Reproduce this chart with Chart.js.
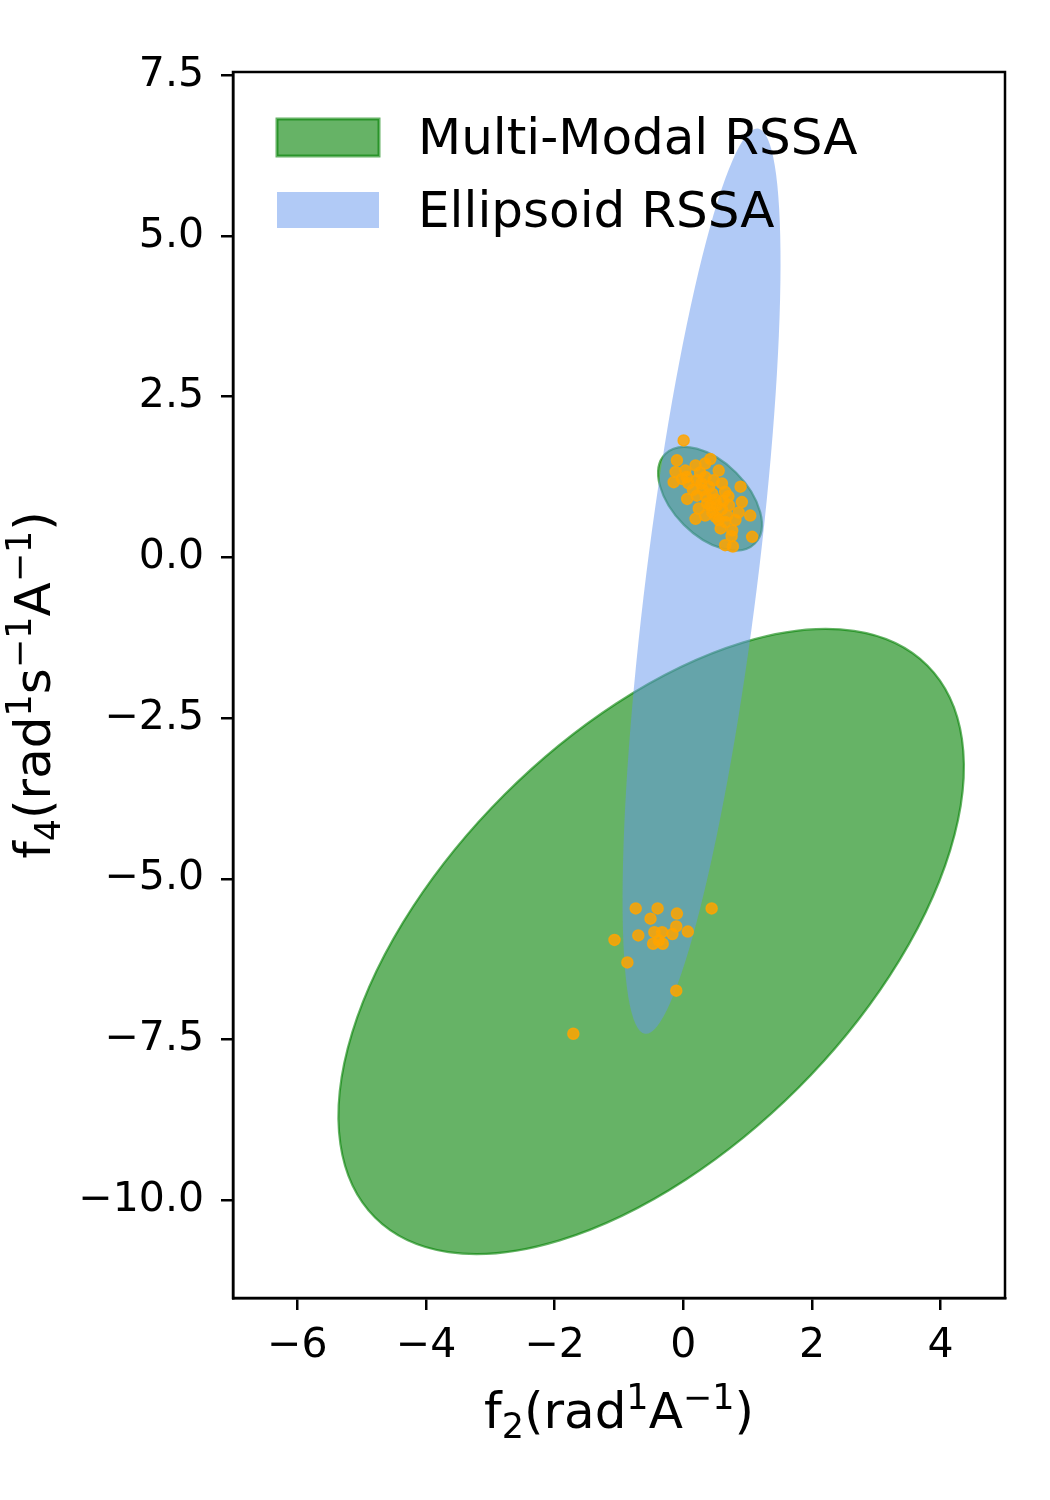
<!DOCTYPE html>
<html>

<head>
    <title>RSSA ellipses</title>
    <script src="https://cdn.jsdelivr.net/npm/chart.js@4.4.2/dist/chart.umd.min.js"></script>
    <style>
        body {
            margin: 0;
            background: #ffffff;
        }

        canvas {
            display: block;
        }
    </style>
</head>

<body>
    <canvas id="grafico" width="1050" height="1500"></canvas>
    <script>
        // ticks of the two axes
        const xTicks = [-6, -4, -2, 0, 2, 4];
        const yTicks = [-10, -7.5, -5, -2.5, 0, 2.5, 5, 7.5];

        // ellipses: centre, semi axes (data units) and angle of the major axis (degrees)
        const ellipseLabels = ['Multi-Modal RSSA', 'Multi-Modal RSSA', 'Ellipsoid RSSA'];
        const ellipseCx = [-0.50, 0.415, 0.283];
        const ellipseCy = [-5.975, 0.912, -0.37];
        const ellipseA = [6.07, 0.985, 7.094];
        const ellipseB = [3.227, 0.574, 0.866];
        const ellipseAngle = [45, -45, 82.9];

        // orange samples
        const sampleX = [
            -0.74, -0.40, -0.51, -0.10, 0.44, -1.07, -0.70, -0.45, -0.33, -0.11, -0.17, 0.07, -0.47, -0.32, -0.38, -0.87, -0.11, -1.71,
            0.005, -0.10, -0.12, -0.15, 0.03, 0.19, 0.42, 0.34, 0.55, 0.08, 0.21, 0.34, 0.47, 0.89, 0.65, 0.06, 0.21, 0.45, 0.24, 0.37,
            0.52, 0.71, 0.91, 0.19, 0.34, 0.50, 0.68, 0.86, 1.04, 0.58, 0.76, 0.65, 0.81, 1.07, 0.65, 0.77, 0.75,
            0.30, 0.40, 0.26, 0.50, 0.60, 0.45, 0.55, 0.35, 0.15, 0.05, 0.60, 0.70, 0.28, 0.42, 0.62, -0.02
        ];
        const sampleY = [
            -5.46, -5.46, -5.62, -5.54, -5.46, -5.95, -5.88, -5.83, -5.83, -5.74, -5.86, -5.82, -6.01, -6.01, -5.96, -6.30, -6.74, -7.41,
            1.82, 1.51, 1.33, 1.17, 1.35, 1.43, 1.53, 1.46, 1.35, 1.15, 1.20, 1.25, 1.20, 1.10, 1.02, 0.91, 0.96, 0.99, 0.76, 0.84,
            0.81, 0.81, 0.86, 0.60, 0.65, 0.63, 0.65, 0.70, 0.65, 0.45, 0.42, 0.55, 0.58, 0.32, 0.19, 0.17, 0.33,
            1.05, 1.10, 1.32, 0.90, 0.75, 0.70, 0.58, 0.95, 1.05, 1.25, 1.15, 0.95, 1.15, 0.80, 0.88, 1.22
        ];

        const FONTE = "'DejaVu Sans', sans-serif";
        const VERDE = 'rgba(0, 128, 0, 0.6)';
        const AZUL = 'rgba(100, 149, 237, 0.5)';
        const LARANJA = 'rgba(255, 165, 0, 0.85)';

        function menos(v, casas) {
            const s = Math.abs(v).toFixed(casas);
            return v < 0 ? '\u2212' + s : s;
        }

        // text with sub/superscripts, like matplotlib mathtext
        const xLabelRuns = [['f'], ['2', 'sub'], ['(rad'], ['1', 'sup'], ['A'], ['\u22121', 'sup'], [')']];
        const yLabelRuns = [['f'], ['4', 'sub'], ['(rad'], ['1', 'sup'], ['s'], ['\u22121', 'sup'], ['A'], ['\u22121', 'sup'], [')']];

        function drawRuns(ctx, runs, size) {
            const small = size * 0.7;
            let total = 0;
            runs.forEach(r => {
                ctx.font = (r[1] ? small : size) + 'px ' + FONTE;
                total += ctx.measureText(r[0]).width;
            });
            let x = -total / 2;
            runs.forEach(r => {
                ctx.font = (r[1] ? small : size) + 'px ' + FONTE;
                let dy = 0;
                if (r[1] === 'sub') dy = size * 0.2;
                if (r[1] === 'sup') dy = -size * 0.38;
                ctx.fillText(r[0], x, dy);
                x += ctx.measureText(r[0]).width;
            });
        }

        function ellipsePath(chart, i) {
            const ctx = chart.ctx;
            const sx = chart.scales.x, sy = chart.scales.y;
            const px = sx.getPixelForValue(ellipseCx[i]);
            const py = sy.getPixelForValue(ellipseCy[i]);
            const kx = sx.getPixelForValue(ellipseCx[i] + 1) - px;
            const ky = sy.getPixelForValue(ellipseCy[i] + 1) - py;
            ctx.save();
            ctx.translate(px, py);
            ctx.scale(kx, ky);
            ctx.rotate(ellipseAngle[i] * Math.PI / 180);
            ctx.beginPath();
            ctx.ellipse(0, 0, ellipseA[i], ellipseB[i], 0, 0, 2 * Math.PI);
            ctx.restore();
        }

        const elipses = {
            id: 'elipses',
            beforeDatasetsDraw(chart) {
                const ctx = chart.ctx;
                const area = chart.chartArea;
                ctx.save();
                ctx.beginPath();
                ctx.rect(area.left, area.top, area.right - area.left, area.bottom - area.top);
                ctx.clip();
                // green first, blue on top
                ellipseLabels.forEach((nome, i) => {
                    if (nome !== 'Multi-Modal RSSA') return;
                    ellipsePath(chart, i);
                    ctx.fillStyle = VERDE;
                    ctx.fill();
                    ctx.strokeStyle = VERDE;
                    ctx.lineWidth = 2.2;
                    ctx.stroke();
                });
                ellipseLabels.forEach((nome, i) => {
                    if (nome !== 'Ellipsoid RSSA') return;
                    ellipsePath(chart, i);
                    ctx.fillStyle = AZUL;
                    ctx.fill();
                });
                ctx.restore();
            },
            afterDraw(chart) {
                const ctx = chart.ctx;
                const area = chart.chartArea;
                ctx.save();
                // frame
                ctx.strokeStyle = '#000';
                ctx.lineWidth = 2.5;
                ctx.strokeRect(area.left, area.top, area.right - area.left, area.bottom - area.top);

                // legend
                const lx = area.left + 44;
                ctx.fillStyle = VERDE;
                ctx.fillRect(lx, 119, 102, 37);
                ctx.strokeStyle = VERDE;
                ctx.lineWidth = 3;
                ctx.strokeRect(lx, 119, 102, 37);
                ctx.fillStyle = AZUL;
                ctx.fillRect(lx, 192, 102, 36);

                ctx.fillStyle = '#000';
                ctx.font = '50px ' + FONTE;
                ctx.textBaseline = 'middle';
                ctx.textAlign = 'left';
                ctx.fillText('Multi-Modal RSSA', 418, 141);
                ctx.fillText('Ellipsoid RSSA', 418, 214);

                // axis titles
                ctx.textBaseline = 'alphabetic';
                ctx.save();
                ctx.translate((area.left + area.right) / 2, 1428);
                drawRuns(ctx, xLabelRuns, 50);
                ctx.restore();

                ctx.save();
                ctx.translate(50, (area.top + area.bottom) / 2);
                ctx.rotate(-Math.PI / 2);
                drawRuns(ctx, yLabelRuns, 50);
                ctx.restore();
                ctx.restore();
            }
        };

        new Chart(document.getElementById('grafico'), {
            type: 'scatter',
            data: {
                datasets: [{
                    label: 'samples',
                    data: sampleX.map((x, i) => ({ x: x, y: sampleY[i] })),
                    backgroundColor: LARANJA,
                    borderColor: LARANJA,
                    borderWidth: 1.5,
                    pointRadius: 5.5
                }]
            },
            options: {
                responsive: false,
                devicePixelRatio: 1,
                animation: false,
                events: [],
                layout: { padding: { top: 72, right: 45, left: 0, bottom: 0 } },
                plugins: {
                    legend: { display: false },
                    tooltip: { enabled: false }
                },
                scales: {
                    x: {
                        type: 'linear',
                        min: -7,
                        max: 5,
                        afterBuildTicks: s => { s.ticks = xTicks.map(v => ({ value: v })); },
                        afterFit: s => { s.height = 202; },
                        grid: { drawOnChartArea: false, drawTicks: true, tickLength: 12, color: '#000', lineWidth: 2.5 },
                        border: { display: true, color: '#000', width: 2.5 },
                        ticks: {
                            color: '#000',
                            padding: 12,
                            maxRotation: 0,
                            font: { family: FONTE, size: 41 },
                            callback: v => menos(v, 0)
                        }
                    },
                    y: {
                        type: 'linear',
                        min: -11.52,
                        max: 7.55,
                        afterBuildTicks: s => { s.ticks = yTicks.map(v => ({ value: v })); },
                        afterFit: s => { s.width = 233; },
                        grid: { drawOnChartArea: false, drawTicks: true, tickLength: 12, color: '#000', lineWidth: 2.5 },
                        border: { display: true, color: '#000', width: 2.5 },
                        ticks: {
                            color: '#000',
                            padding: 17,
                            font: { family: FONTE, size: 41 },
                            callback: v => menos(v, 1)
                        }
                    }
                }
            },
            plugins: [elipses]
        });
    </script>
</body>

</html>
